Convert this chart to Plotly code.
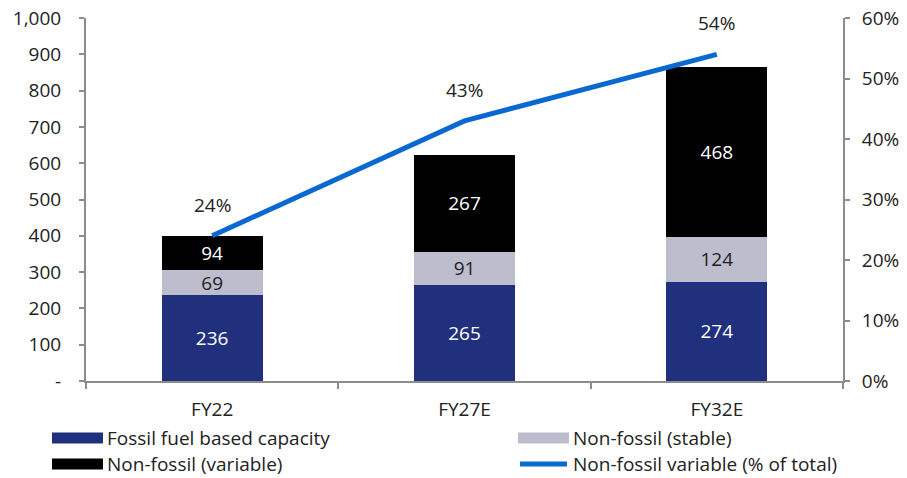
import plotly.graph_objects as go

categories = ["FY22", "FY27E", "FY32E"]
fossil = [236, 265, 274]
nonfossil_stable = [69, 91, 124]
nonfossil_variable = [94, 267, 468]
variable_share = [24, 43, 54]

left_ticks = [0, 100, 200, 300, 400, 500, 600, 700, 800, 900, 1000]
left_labels = ["-", "100", "200", "300", "400", "500", "600", "700", "800", "900", "1,000"]
right_ticks = [0, 10, 20, 30, 40, 50, 60]
right_labels = [f"{v}%" for v in right_ticks]

NAVY = "#21307C"
GREY = "#BEBDCD"
BLACK = "#000000"
BLUE = "#0A69D0"
FONT = "Open Sans"
TXT = "#222222"
AX = "#8C8C8C"
FS = 19

fig = go.Figure()
bar_specs = [
    (fossil, "Fossil fuel based capacity", NAVY, "white"),
    (nonfossil_stable, "Non-fossil (stable)", GREY, TXT),
    (nonfossil_variable, "Non-fossil (variable)", BLACK, "white"),
]
for vals, name, col, tcol in bar_specs:
    fig.add_trace(go.Bar(x=categories, y=vals, name=name,
                         marker=dict(color=col, line=dict(width=0)),
                         text=vals, textposition="inside", insidetextanchor="middle",
                         textangle=0, constraintext="none",
                         textfont=dict(color=tcol, size=FS, family=FONT)))
fig.add_trace(go.Scatter(x=categories, y=variable_share, name="Non-fossil variable (% of total)",
                         mode="lines", line=dict(color=BLUE, width=5), yaxis="y2"))

for c, v in zip(categories, variable_share):
    fig.add_annotation(x=c, y=v, yref="y2", text=f"{v}%", showarrow=False,
                       yshift=31, font=dict(size=FS, color=TXT, family=FONT))

fig.update_layout(
    barmode="stack", bargap=0.6,
    width=907, height=478,
    margin=dict(l=86, r=64, t=18, b=97, autoexpand=False),
    paper_bgcolor="white", plot_bgcolor="white",
    showlegend=False,
    font=dict(family=FONT, size=FS, color=TXT),
    xaxis=dict(showline=True, linecolor=AX, linewidth=2, ticks="outside",
               tickcolor=AX, ticklen=6, tickwidth=1.5, showgrid=False,
               tickson="boundaries", ticklabelstandoff=10, automargin=False,
               tickfont=dict(size=FS, color=TXT, family=FONT)),
    yaxis=dict(range=[0, 1000], tickvals=left_ticks, ticktext=left_labels,
               showline=True, linecolor=AX, linewidth=2, ticks="outside",
               tickcolor=AX, ticklen=5, tickwidth=1.5, showgrid=False, zeroline=False,
               ticklabelstandoff=14, automargin=False,
               tickfont=dict(size=FS, color=TXT, family=FONT)),
    yaxis2=dict(range=[0, 60], tickvals=right_ticks, ticktext=right_labels,
                overlaying="y", side="right",
                showline=True, linecolor=AX, linewidth=2, ticks="outside",
                tickcolor=AX, ticklen=5, tickwidth=1.5, showgrid=False, zeroline=False,
                ticklabelstandoff=8, automargin=False,
                tickfont=dict(size=FS, color=TXT, family=FONT)),
)

# Manual legend (2 columns x 2 rows), positioned in pixels relative to the plot area
legend_items = [
    ("Fossil fuel based capacity", NAVY, "box", 52, 438),
    ("Non-fossil (stable)", GREY, "box", 518, 438),
    ("Non-fossil (variable)", BLACK, "box", 52, 464),
    ("Non-fossil variable (% of total)", BLUE, "line", 518, 464),
]
plot_l, plot_r, plot_t, plot_b = 86, 843, 18, 381
pw, ph = plot_r - plot_l, plot_b - plot_t

def px2x(p):
    return (p - plot_l) / pw

def py2y(p):
    return (plot_b - p) / ph

for label, color, kind, px, py in legend_items:
    if kind == "box":
        fig.add_shape(type="rect", xref="paper", yref="paper",
                      x0=px2x(px), x1=px2x(px + 51), y0=py2y(py + 5.5), y1=py2y(py - 5.5),
                      fillcolor=color, line=dict(width=0))
    else:
        fig.add_shape(type="line", xref="paper", yref="paper",
                      x0=px2x(px + 2), x1=px2x(px + 49), y0=py2y(py), y1=py2y(py),
                      line=dict(color=color, width=5))
    fig.add_annotation(xref="paper", yref="paper", x=px2x(px + 53), y=py2y(py),
                       text=label, showarrow=False, xanchor="left", yanchor="middle",
                       font=dict(size=FS, color=TXT, family=FONT))

fig.write_html("out.html")
